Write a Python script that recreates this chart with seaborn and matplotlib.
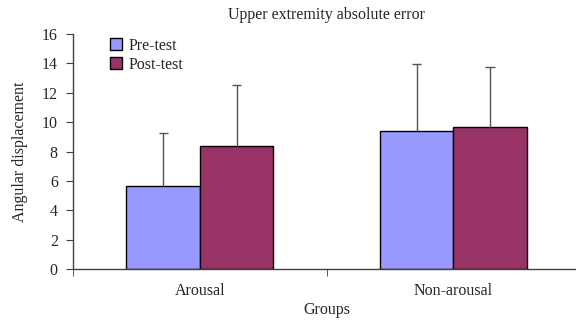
import pandas as pd
import seaborn as sns
import matplotlib.pyplot as plt

# Values
groups = ["Arousal", "Non-arousal"]
tests = ["Pre-test", "Post-test"]
pre_means = [5.65, 9.4]
post_means = [8.35, 9.7]
pre_err = [3.6, 4.55]
post_err = [4.2, 4.05]

df = pd.DataFrame({
    "Group": groups * 2,
    "Test": [tests[0]] * 2 + [tests[1]] * 2,
    "Value": pre_means + post_means,
})
errs = {tests[0]: pre_err, tests[1]: post_err}

sns.set_style("white")
plt.rcParams["font.family"] = ["Liberation Serif", "DejaVu Serif"]

fig = plt.figure(figsize=(5.76, 3.2), dpi=100)
ax = fig.add_axes([0.127, 0.159, 0.88, 0.735])

sns.barplot(data=df, x="Group", y="Value", hue="Test", order=groups, hue_order=tests,
            palette=["#9999FF", "#993366"], saturation=1, width=0.58,
            edgecolor="black", linewidth=1, errorbar=None, ax=ax)

# One-sided (upper) error bars
for cont, t in zip(ax.containers, tests):
    for bar, e in zip(cont.patches, errs[t]):
        xc = bar.get_x() + bar.get_width() / 2
        top = bar.get_height()
        ax.vlines(xc, top, top + e, color="#555555", lw=1, zorder=3)
        ax.hlines(top + e, xc - 0.018, xc + 0.018, color="#555555", lw=1, zorder=3)

ax.set_ylim(0, 16)
ax.set_yticks(range(0, 17, 2))
ax.set_xlim(-0.5, 1.5)
ax.set_xticks([0, 1])
ax.set_xticklabels(groups)
ax.set_xticks([-0.5, 0.5, 1.5], minor=True)
ax.tick_params(axis="x", which="major", length=0, pad=10, labelsize=11.5)
ax.tick_params(axis="x", which="minor", length=5, color="#404040", direction="out", bottom=True)
ax.tick_params(axis="y", length=5, color="#404040", direction="out", left=True, labelsize=11.5, pad=6)

for s in ["top", "right"]:
    ax.spines[s].set_visible(False)
for s in ["left", "bottom"]:
    ax.spines[s].set_color("#404040")
    ax.spines[s].set_linewidth(1)

ax.set_xlabel("Groups", fontsize=11.5, labelpad=2)
ax.set_ylabel("Angular displacement", fontsize=11.5, labelpad=10)
ax.set_title("Upper extremity absolute error", fontsize=11.5, pad=11)

ax.legend(loc="upper left", bbox_to_anchor=(0.045, 1.045), frameon=False,
          handlelength=0.75, handleheight=0.75, handletextpad=0.4,
          labelspacing=0.2, fontsize=11.5)

fig.savefig("out.png", dpi=100)
